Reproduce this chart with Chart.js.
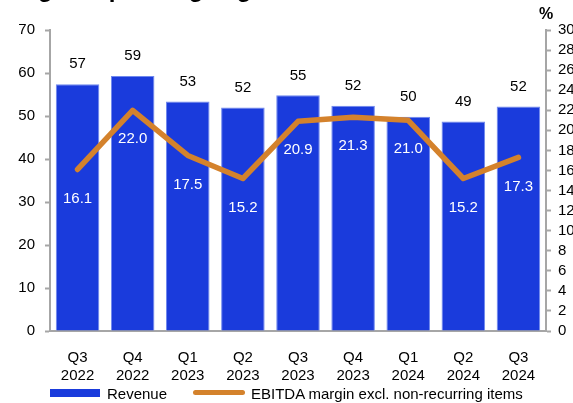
<!DOCTYPE html>
<html>
<head>
<meta charset="utf-8">
<script src="https://cdn.jsdelivr.net/npm/chart.js@4.4.1/dist/chart.umd.min.js"></script>
<style>
  html, body { margin: 0; padding: 0; background: #fff; overflow: hidden; }
  #wrap { position: relative; width: 573px; height: 403px; font-family: "Liberation Sans", Arial, sans-serif; }
  #title { position: absolute; left: 14px; top: -23px; font-size: 24px; font-weight: bold; line-height: 1; white-space: nowrap; color: #000; }
  #pct { position: absolute; left: 539px; top: 6px; font-size: 16px; font-weight: bold; line-height: 1; color: #000; }
  .leg { position: absolute; top: 385px; font-size: 15px; line-height: 17px; color: #000; white-space: nowrap; }
  .sw-bar { position: absolute; left: 50px; top: 389px; width: 50px; height: 8px; background: #1a3bdc; }
  .sw-line { position: absolute; left: 193px; top: 390px; width: 52px; height: 5px; border-radius: 3px; background: #d4822c; }
</style>
</head>
<body>
<div id="wrap">
  <canvas id="chart"></canvas>
  <div id="title">Digital operating segment</div>
  <div id="pct">%</div>
  <div class="sw-bar"></div>
  <div class="leg" style="left:107px">Revenue</div>
  <div class="sw-line"></div>
  <div class="leg" style="left:251px">EBITDA margin excl. non-recurring items</div>
</div>
<script>
const categories = [
  ["Q3", "2022"], ["Q4", "2022"], ["Q1", "2023"], ["Q2", "2023"], ["Q3", "2023"],
  ["Q4", "2023"], ["Q1", "2024"], ["Q2", "2024"], ["Q3", "2024"]
];
const revenue = [57.4, 59.3, 53.4, 52.0, 54.8, 52.4, 49.8, 48.7, 52.2];
const ebitdaMargin = [16.1, 22.0, 17.5, 15.2, 20.9, 21.3, 21.0, 15.2, 17.3];

const barColor = "#1a3bdc";
const lineColor = "#d4822c";
const axisColor = "#a6a6a6";
const font = { family: "'Liberation Sans', Arial, sans-serif", size: 15 };

const valueLabels = {
  id: "valueLabels",
  afterDatasetsDraw(chart) {
    const ctx = chart.ctx;
    ctx.save();
    ctx.font = "15px 'Liberation Sans', Arial, sans-serif";
    ctx.textAlign = "center";
    ctx.textBaseline = "middle";
    chart.getDatasetMeta(0).data.forEach((bar, i) => {
      ctx.fillStyle = "#000";
      ctx.fillText(Math.round(revenue[i]), bar.x, bar.y - 20);
    });
    chart.getDatasetMeta(1).data.forEach((pt, i) => {
      ctx.fillStyle = "#fff";
      ctx.fillText(ebitdaMargin[i].toFixed(1), pt.x, pt.y + 29);
    });
    ctx.restore();
  }
};

new Chart(document.getElementById("chart"), {
  type: "bar",
  data: {
    labels: categories,
    datasets: [
      {
        label: "Revenue",
        data: revenue,
        backgroundColor: barColor,
        borderColor: "#6f88ee",
        borderWidth: 1,
        categoryPercentage: 1,
        barPercentage: 0.79,
        yAxisID: "y",
        order: 1
      },
      {
        type: "line",
        label: "EBITDA margin excl. non-recurring items",
        data: ebitdaMargin,
        borderColor: lineColor,
        borderWidth: 5.5,
        borderCapStyle: "round",
        borderJoinStyle: "round",
        pointRadius: 0,
        tension: 0,
        yAxisID: "y1",
        order: 0
      }
    ]
  },
  options: {
    responsive: true,
    maintainAspectRatio: false,
    devicePixelRatio: 1,
    animation: false,
    layout: { padding: { top: 30, left: 0, right: 0, bottom: 0 } },
    plugins: {
      legend: { display: false },
      tooltip: { enabled: false }
    },
    scales: {
      x: {
        grid: { display: false },
        border: { display: true, color: axisColor, width: 2 },
        ticks: { color: "#000", font: font, padding: 10, maxRotation: 0 },
        afterFit(scale) { scale.height = 72; }
      },
      y: {
        position: "left",
        min: 0,
        max: 70,
        ticks: { stepSize: 10, color: "#000", font: font, padding: 10 },
        grid: { drawOnChartArea: false, color: axisColor, tickColor: axisColor, tickLength: 5, tickWidth: 2 },
        border: { display: true, color: axisColor, width: 2 },
        afterFit(scale) { scale.width = 50; }
      },
      y1: {
        position: "right",
        min: 0,
        max: 30,
        ticks: { stepSize: 2, autoSkip: false, color: "#000", font: font, padding: 7 },
        grid: { drawOnChartArea: false, color: axisColor, tickColor: axisColor, tickLength: 5, tickWidth: 2 },
        border: { display: true, color: axisColor, width: 2 },
        afterFit(scale) { scale.width = 27; }
      }
    }
  },
  plugins: [valueLabels]
});
</script>
</body>
</html>
